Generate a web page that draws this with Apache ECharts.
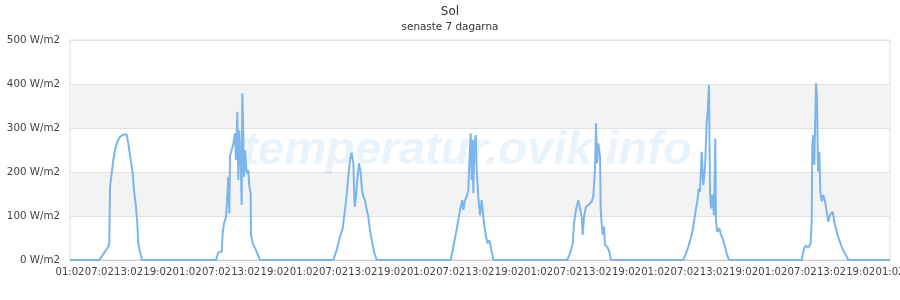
<!DOCTYPE html>
<html>
<head>
<meta charset="utf-8">
<script src="https://cdn.jsdelivr.net/npm/echarts@6/dist/echarts.min.js"></script>
<style>
html,body{margin:0;padding:0;background:#fff;}
#c{width:900px;height:300px;}
</style>
</head>
<body>
<div id="c"></div>
<script>
// Hours since the first tick (01:02, day 1)
var hours = [
  0, 6.00, 7.17, 7.85, 8.05, 8.15, 8.20, 8.54, 8.87, 9.22, 9.69, 10.24, 10.92, 11.62, 11.94, 12.44, 12.85, 13.11, 13.52, 13.79, 13.99, 14.34, 14.75,
  29.91, 30.38, 31.08, 31.28, 31.55, 31.96, 32.23, 32.43, 32.64, 32.78, 33.13, 33.46, 33.80, 34.01, 34.28, 34.48, 34.69, 34.97, 35.18, 35.30, 35.51, 35.65, 35.85, 36.20, 36.53, 36.73, 37.02, 37.08, 37.43, 37.90, 38.37, 38.93,
  53.94, 54.64, 55.32, 55.87, 56.34, 56.69, 57.02, 57.37, 57.71, 58.04, 58.33, 58.60, 58.86, 59.21, 59.56, 59.82, 60.09, 60.44, 60.79, 61.12, 61.46, 61.81, 62.28, 62.84,
  78.00, 78.53, 79.08, 79.55, 80.05, 80.37, 80.58, 80.93, 81.27, 81.60, 81.81, 82.09, 82.30, 82.50, 82.63, 82.83, 83.12, 83.32, 83.65, 84.00, 84.35, 84.68, 85.02, 85.50, 85.91, 86.25, 86.73,
  101.89, 102.44, 102.99, 103.26, 103.67, 104.14, 104.49, 104.84, 105.04, 105.31, 105.72, 106.19, 106.54, 106.88, 107.21, 107.56, 107.77, 107.97, 108.24, 108.59, 108.73, 108.93, 109.14, 109.41, 109.61, 110.08, 110.49, 110.84, 111.04,
  125.65, 126.21, 126.68, 127.17, 127.50, 127.84, 128.25, 128.52, 128.81, 129.07, 129.42, 129.75, 130.10, 130.45, 130.65, 130.92, 131.12, 131.33, 131.59, 131.94, 132.21, 132.35, 132.62, 133.03, 133.38, 133.72, 134.19, 134.54, 135.01,
  149.91, 150.38, 150.79, 151.26, 151.75, 151.96, 152.08, 152.29, 152.49, 152.70, 152.84, 153.05, 153.25, 153.52, 153.72, 154.01, 154.33, 154.68, 155.03, 155.36, 155.71, 156.26, 156.59, 157.08, 157.61, 158.11, 158.57, 158.98, 159.46,
  168
];
// Solar radiation, W/m2
var solar = [
  0, 0, 19, 30, 38, 38, 167, 197, 227, 250, 269, 280, 285, 285, 265, 227, 197, 159, 121, 83, 38, 19, 0,
  0, 17, 19, 61, 83, 98, 144, 189, 106, 235, 250, 265, 288, 227, 337, 182, 295, 220, 125, 379, 288, 189, 250, 197, 205, 167, 152, 57, 38, 27, 15, 0,
  0, 23, 53, 72, 114, 148, 189, 227, 244, 220, 121, 144, 182, 220, 197, 159, 144, 136, 114, 98, 68, 45, 19, 0,
  0, 30, 61, 91, 121, 136, 114, 136, 144, 159, 220, 288, 182, 273, 152, 258, 284, 205, 144, 102, 136, 98, 68, 38, 45, 27, 0,
  0, 15, 38, 83, 114, 136, 117, 98, 57, 98, 121, 125, 121, 133, 144, 205, 311, 220, 265, 235, 114, 83, 57, 76, 34, 30, 19, 0, 0,
  0, 15, 30, 49, 64, 87, 117, 133, 163, 155, 246, 170, 208, 314, 337, 398, 155, 117, 148, 102, 276, 87, 64, 72, 57, 49, 30, 15, 0,
  0, 27, 33, 28, 38, 87, 261, 284, 216, 330, 402, 367, 201, 246, 155, 133, 148, 133, 110, 87, 102, 110, 87, 64, 45, 30, 19, 11, 0,
  0
];
var startHour = 1, startMinute = '02';
var titleText = 'Sol';
var subtitleText = 'senaste 7 dagarna';
var unit = 'W/m2';
var watermark = 'temperatur.ovik.info';

var data = hours.map(function (h, i) { return [h, solar[i]]; });
function pad(n){ return (n < 10 ? '0' : '') + n; }

var chart = echarts.init(document.getElementById('c'), null, {renderer: 'canvas'});
chart.setOption({
  animation: false,
  backgroundColor: '#ffffff',
  textStyle: {fontFamily: 'DejaVu Sans'},
  title: {
    text: titleText,
    subtext: subtitleText,
    left: 'center',
    top: 1,
    itemGap: 4,
    textStyle: {fontFamily: 'DejaVu Sans', fontSize: 12, fontWeight: 'normal', color: '#333'},
    subtextStyle: {fontFamily: 'DejaVu Sans', fontSize: 10.4, color: '#333'}
  },
  graphic: [{
    type: 'text',
    z: 1,
    x: 467,
    y: 151,
    style: {
      text: watermark,
      align: 'center',
      verticalAlign: 'middle',
      font: 'italic bold 47px "Liberation Sans"',
      fill: 'rgba(124,181,236,0.17)'
    }
  }],
  grid: {
    left: 70, right: 10, top: 40, bottom: 40,
    containLabel: false,
    outerBoundsMode: 'none',
    show: true, borderColor: '#dddddd', borderWidth: 1, backgroundColor: 'transparent'
  },
  xAxis: {
    type: 'value',
    min: 0, max: 168, interval: 6,
    axisLine: {show: true, lineStyle: {color: '#cccccc'}},
    axisTick: {show: false},
    splitLine: {show: false},
    axisLabel: {
      margin: 7,
      fontFamily: 'DejaVu Sans', fontSize: 10.1, color: '#444',
      hideOverlap: false,
      formatter: function (v) { return pad((startHour + Math.round(v)) % 24) + ':' + startMinute; }
    }
  },
  yAxis: {
    type: 'value',
    min: 0, max: 500, interval: 100,
    axisLine: {show: false},
    axisTick: {show: false},
    splitLine: {show: true, lineStyle: {color: '#e0e0e0'}},
    splitArea: {show: true, areaStyle: {color: ['rgba(255,255,255,0)', '#f3f3f3']}},
    axisLabel: {
      margin: 10,
      fontFamily: 'DejaVu Sans', fontSize: 10.3, color: '#444',
      formatter: function (v) { return v + ' ' + unit; }
    }
  },
  series: [{
    type: 'line',
    data: data,
    showSymbol: false,
    symbol: 'none',
    z: 3,
    lineStyle: {color: '#7cb5ec', width: 2},
    emphasis: {disabled: true}
  }]
});
</script>
</body>
</html>
